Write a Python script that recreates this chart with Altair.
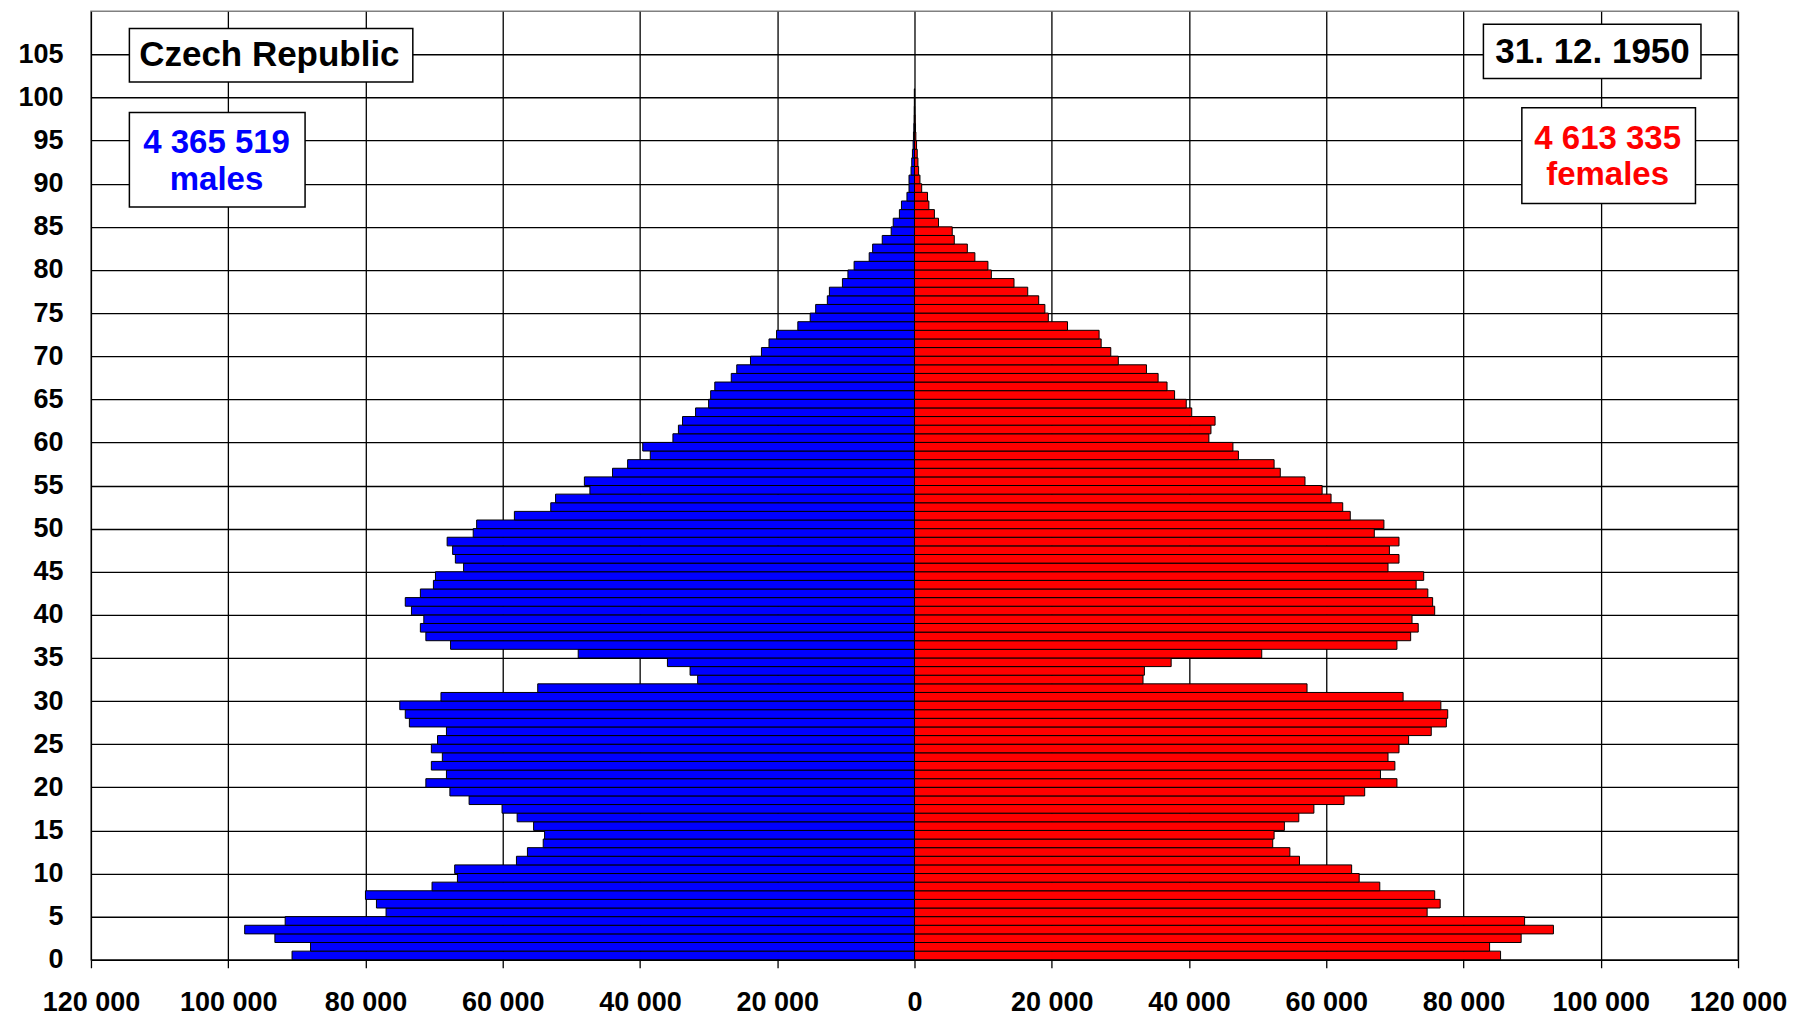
import altair as alt
import pandas as pd

# ---- data (persons by single year of age, 31.12.1950) ----
ages = list(range(0, 101))
males = [90700, 88000, 93200, 97600, 91700, 77000, 78400, 80000, 70300, 66600,
         67000, 58000, 56400, 54100, 53900, 55500, 57900, 60100, 64900, 67700,
         71200, 68200, 70400, 68800, 70400, 69500, 68200, 73600, 74200, 75000,
         69000, 54900, 31600, 32700, 36000, 49000, 67600, 71200, 72000, 71500,
         73300, 74200, 72000, 70100, 69800, 65700, 66900, 67300, 68100, 64300,
         63800, 58300, 53000, 52300, 47300, 48100, 44000, 41800, 38500, 39600,
         35200, 34400, 33800, 31900, 30000, 29700, 29100, 26700, 25900, 23900,
         22300, 21200, 20100, 17000, 15200, 14400, 12700, 12400, 10500, 9700,
         8800, 6600, 6100, 4700, 3400, 3100, 2200, 1900, 1100, 800,
         800, 500, 400, 300, 200, 150, 100, 60, 40, 20, 20]
females = [85400, 83800, 88400, 93100, 88900, 74700, 76600, 75800, 67800, 64800,
           63700, 56100, 54700, 52200, 52400, 53900, 56000, 58200, 62600, 65600,
           70300, 67900, 70000, 69000, 70600, 72000, 75300, 77500, 77700, 76700,
           71200, 57200, 33300, 33500, 37400, 50600, 70300, 72300, 73400, 72500,
           75800, 75500, 74800, 73100, 74200, 69000, 70600, 69200, 70600, 67000,
           68400, 63500, 62400, 60700, 59400, 56900, 53300, 52400, 47200, 46400,
           42900, 43200, 43800, 40400, 39600, 37900, 36800, 35500, 33800, 29700,
           28600, 27200, 26900, 22300, 19500, 19000, 18100, 16500, 14500, 11200,
           10700, 8800, 7700, 5800, 5500, 3500, 2900, 2100, 1900, 1050,
           800, 600, 500, 400, 300, 200, 150, 100, 60, 40, 30]

x_ticks = list(range(-120000, 120001, 20000))
y_ticks = list(range(0, 106, 5))

title_text = "Czech Republic"
date_text = "31. 12. 1950"
male_total = "4 365 519"
female_total = "4 613 335"
male_word = "males"
female_word = "females"

# ---- tables ----
df = pd.DataFrame({
    "age": ages + ages,
    "sex": ["male"] * len(ages) + ["female"] * len(ages),
    "value": [-v for v in males] + females,
})
df["age_top"] = df["age"] + 1
df["zero"] = 0

FONT = "Liberation Sans"

x_scale = alt.Scale(domain=[-120000, 120000], nice=False, zero=False)
y_scale = alt.Scale(domain=[0, 110], nice=False, zero=False)

x_axis = alt.Axis(
    values=x_ticks, title=None, grid=True, ticks=True, tickSize=8,
    tickColor="black", tickWidth=1.3, labelPadding=22,
    labelExpr="datum.value == 0 ? '0' : format(abs(datum.value) / 1000, 'd') + ' 000'",
    labelFlush=False, labelOverlap=False,
)
y_axis = alt.Axis(
    values=y_ticks, title=None, grid=True, ticks=False, tickSize=0,
    labelPadding=28, labelOverlap=False,
)

bars = alt.Chart(df).mark_bar(stroke="black", strokeWidth=1).encode(
    x=alt.X("value:Q", scale=x_scale, axis=x_axis),
    x2="zero:Q",
    y=alt.Y("age:Q", scale=y_scale, axis=y_axis),
    y2="age_top:Q",
    color=alt.Color("sex:N",
                    scale=alt.Scale(domain=["male", "female"], range=["#0000FF", "#FF0000"]),
                    legend=None),
)

# ---- annotation boxes and texts (placed in data coordinates) ----
boxes = pd.DataFrame({
    "x": [-114400, -114400, 82900, 88500],
    "x2": [-73100, -88800, 114600, 113800],
    "y": [101.8, 87.3, 102.2, 87.7],
    "y2": [108.0, 98.25, 108.5, 98.8],
})
box_layer = alt.Chart(boxes).mark_rect(fill="white", stroke="black", strokeWidth=1.5).encode(
    x=alt.X("x:Q", scale=x_scale, axis=x_axis),
    x2="x2:Q",
    y=alt.Y("y:Q", scale=y_scale, axis=y_axis),
    y2="y2:Q",
)


def text_layer(rows, color, size):
    t = pd.DataFrame(rows, columns=["x", "y", "label"])
    return alt.Chart(t).mark_text(
        font=FONT, fontWeight="bold", fontSize=size, color=color,
        align="center", baseline="alphabetic",
    ).encode(
        x=alt.X("x:Q", scale=x_scale, axis=x_axis),
        y=alt.Y("y:Q", scale=y_scale, axis=y_axis),
        text="label:N",
    )


black_text = text_layer([(-94000, 103.6, title_text), (98800, 104.0, date_text)], "black", 35)
blue_text = text_layer([(-101700, 93.55, male_total), (-101700, 89.25, male_word)], "#0000FF", 33)
red_text = text_layer([(101000, 94.0, female_total), (101000, 89.8, female_word)], "#FF0000", 33)

chart = alt.layer(bars, box_layer, black_text, blue_text, red_text).properties(
    width=1648, height=949,
    padding={"left": 9, "top": 3, "right": 0, "bottom": 0},
    background="white",
).configure_view(
    stroke="#808080", strokeWidth=1.5,
).configure_axis(
    domain=False, gridColor="black", gridWidth=1.3, gridOpacity=1,
    labelFont=FONT, labelFontWeight="bold", labelFontSize=27, labelColor="black",
)

chart.save("out.html", embed_options={"renderer": "svg", "actions": False})
